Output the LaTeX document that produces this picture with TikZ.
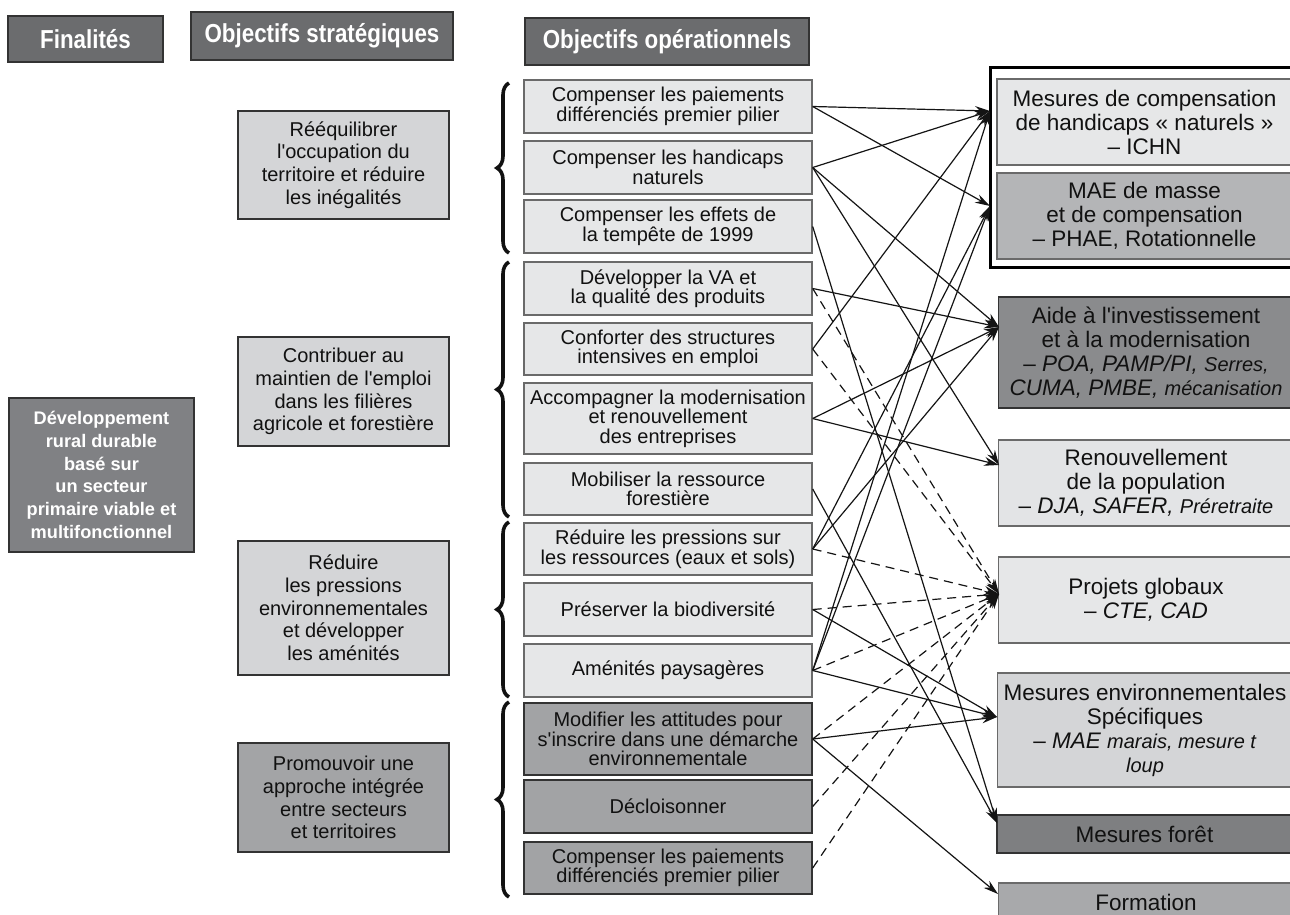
\documentclass[tikz,border=0pt]{standalone}
\usepackage{fontspec}
\setmainfont{Liberation Sans}[Ligatures=TeXOff]
\newfontfamily\headfont{Liberation Sans}[FakeStretch=0.86,Ligatures=TeXOff]
\usetikzlibrary{arrows.meta,decorations.pathreplacing}

\definecolor{headfill}{HTML}{6B6C6E}
\definecolor{devfill}{HTML}{808184}
\definecolor{stratlight}{HTML}{D4D5D7}
\definecolor{stratdark}{HTML}{A3A4A6}
\definecolor{oplight}{HTML}{E6E7E8}
\definecolor{opdark}{HTML}{A2A3A5}
\definecolor{mesA}{HTML}{E6E7E8}
\definecolor{mesB}{HTML}{B4B5B7}
\definecolor{mesC}{HTML}{8A8B8D}
\definecolor{mesD}{HTML}{E3E4E6}
\definecolor{mesE}{HTML}{E6E7E8}
\definecolor{mesF}{HTML}{D4D5D7}
\definecolor{mesG}{HTML}{7E7F81}
\definecolor{mesH}{HTML}{A8A9AB}
\definecolor{edgegray}{HTML}{6A6A6A}
\definecolor{edgedark}{HTML}{333333}
\definecolor{textblack}{HTML}{111111}
\definecolor{linecol}{HTML}{141414}

\begin{document}
\begin{tikzpicture}[x=1pt,y=-1pt,
  box/.style={draw=edgegray, line width=1.4pt, align=center, inner sep=0pt, text=textblack},
  headbox/.style={box, draw=edgedark, fill=headfill, text=white,
    font=\headfont\bfseries\fontsize{26}{28}\selectfont},
  devbox/.style={box, draw=edgedark, fill=devfill, text=white,
    font=\bfseries\fontsize{18.2}{22.7}\selectfont},
  stratbox/.style={box, draw=edgedark, minimum width=211pt, font=\fontsize{20}{22.7}\selectfont},
  opbox/.style={box, minimum width=288pt, fill=oplight, font=\fontsize{20}{19.5}\selectfont},
  opdarkbox/.style={opbox, draw=edgedark, fill=opdark},
  mesbox/.style={box, minimum width=295pt, font=\fontsize{22.5}{24}\selectfont},
  link/.style={-{Stealth[length=15pt,width=9pt]}, line width=1.2pt, draw=linecol},
  dlink/.style={link, dash pattern=on 9pt off 6pt},
  bracemark/.style={decorate, decoration={brace, amplitude=12pt}, line width=3.6pt, draw=textblack}
]
\newcommand{\sm}[1]{{\fontsize{20}{24}\selectfont #1}}
\useasboundingbox (0,0) rectangle (1290,915);
\clip (0,0) rectangle (1290,915);
\fill[white] (0,0) rectangle (1290,915);

% column headers
\node[headbox, minimum width=155pt, minimum height=46pt] (hfin) at (85.5,39) {Finalités};
\node[headbox, minimum width=262pt, minimum height=48pt] (hstrat) at (322,36) {Objectifs stratégiques};
\node[headbox, minimum width=284pt, minimum height=47pt] (hop) at (667,41.5) {Objectifs opérationnels};

% finalité
\node[devbox, minimum width=185pt, minimum height=154pt] (dev) at (101.5,475)
  {Développement\\rural durable\\basé sur\\un secteur\\primaire viable et\\multifonctionnel};

% objectifs stratégiques
\node[stratbox, fill=stratlight, minimum height=108pt] (r1) at (343.5,165)
  {Rééquilibrer\\l'occupation du\\territoire et réduire\\les inégalités};
\node[stratbox, fill=stratlight, minimum height=109pt] (r2) at (343.5,391.5)
  {Contribuer au\\maintien de l'emploi\\dans les filières\\agricole et forestière};
\node[stratbox, fill=stratlight, minimum height=134pt] (r3) at (343.5,608)
  {Réduire\\les pressions\\environnementales\\et développer\\les aménités};
\node[stratbox, fill=stratdark, minimum height=109pt] (r4) at (343.5,797.5)
  {Promouvoir une\\approche intégrée\\entre secteurs\\et territoires};

% braces grouping the operational objectives
\draw[bracemark] (509,253) -- (509,83);
\draw[bracemark] (509,517) -- (509,262);
\draw[bracemark] (509,697) -- (509,522);
\draw[bracemark] (509,897) -- (509,702);

% objectifs opérationnels
\node[opbox, minimum height=53pt] (s1) at (668,106.5) {Compenser les paiements\\différenciés premier pilier};
\node[opbox, minimum height=53pt] (s2) at (668,167.5) {Compenser les handicaps\\naturels};
\node[opbox, minimum height=53pt] (s3) at (668,226.5) {Compenser les effets de\\la tempête de 1999};
\node[opbox, minimum height=53pt] (s4) at (668,288.5) {Développer la VA et\\la qualité des produits};
\node[opbox, minimum height=52pt] (s5) at (668,349) {Conforter des structures\\intensives en emploi};
\node[opbox, minimum height=71pt] (s6) at (668,418.5) {Accompagner la modernisation\\et renouvellement\\des entreprises};
\node[opbox, minimum height=52pt] (s7) at (668,489) {Mobiliser la ressource\\forestière};
\node[opbox, minimum height=52pt] (s8) at (668,549) {Réduire les pressions sur\\les ressources (eaux et sols)};
\node[opbox, minimum height=53pt] (s9) at (668,609.5) {Préserver la biodiversité};
\node[opbox, minimum height=53pt] (s10) at (668,670.5) {Aménités paysagères};
\node[opdarkbox, minimum height=72pt] (s11) at (668,739) {Modifier les attitudes pour\\s'inscrire dans une démarche\\environnementale};
\node[opdarkbox, minimum height=53pt] (s12) at (668,806.5) {Décloisonner};
\node[opdarkbox, minimum height=52pt] (s13) at (668,868) {Compenser les paiements\\différenciés premier pilier};

% mesures
\node[mesbox, fill=mesA, minimum height=86pt] (m1) at (1144.5,122)
  {Mesures de compensation\\de handicaps « naturels »\\– ICHN};
\node[mesbox, fill=mesB, minimum height=86pt] (m2) at (1144.5,216)
  {MAE de masse\\et de compensation\\– PHAE, Rotationnelle};
\draw[line width=3pt, draw=black] (990,68) rectangle (1300,267);
\node[mesbox, fill=mesC, draw=edgedark, minimum height=111pt] (m3) at (1146,352.5)
  {Aide à l'investissement\\et à la modernisation\\– \textit{POA, PAMP/PI, \sm{Serres,}}\\\textit{CUMA, PMBE, \sm{mécanisation}}};
\node[mesbox, fill=mesD, minimum height=86pt] (m4) at (1146,483)
  {Renouvellement\\de la population\\– \textit{DJA, SAFER, \sm{Préretraite}}};
\node[mesbox, fill=mesE, minimum height=86pt] (m5) at (1146,600)
  {Projets globaux\\– \textit{CTE, CAD}};
\node[mesbox, fill=mesF, minimum height=114pt] (m6) at (1145,730)
  {Mesures environnementales\\Spécifiques\\– \textit{MAE \sm{marais, mesure t}}\\\textit{\sm{loup}}};
\node[mesbox, fill=mesG, draw=edgedark, minimum height=38pt] (m7) at (1144.5,834) {Mesures forêt};
\node[mesbox, fill=mesH, minimum height=44pt] (m8) at (1146,905) {\raisebox{6pt}{Formation}};

% arrow landing points on the measures
\coordinate (in1) at (990,111);
\coordinate (in2) at (990,206);
\coordinate (in3) at (999,327);
\coordinate (in4) at (999,465);
\coordinate (in5) at (999,594);
\coordinate (in6) at (997,717);
\coordinate (in7) at (997,823);
\coordinate (in8) at (998,894);

% solid links
\draw[link] (s1.east) -- (in1);
\draw[link] (s1.east) -- (in2);
\draw[link] (s2.east) -- (in1);
\draw[link] (s2.east) -- (in3);
\draw[link] (s2.east) -- (in4);
\draw[link] (s3.east) -- (in7);
\draw[link] (s4.east) -- (in3);
\draw[link] (s5.east) -- (in1);
\draw[link] (s6.east) -- (in3);
\draw[link] (s6.east) -- (in4);
\draw[link] (s7.east) -- (in7);
\draw[link] (s8.east) -- (in2);
\draw[link] (s8.east) -- (in3);
\draw[link] (s9.east) -- (in6);
\draw[link] (s10.east) -- (in1);
\draw[link] (s10.east) -- (in2);
\draw[link] (s10.east) -- (in6);
\draw[link] (s11.east) -- (in6);
\draw[link] (s11.east) -- (in8);

% dashed links to the global projects
\foreach \src in {s4,s5,s8,s9,s10,s11,s12,s13}
  \draw[dlink] (\src.east) -- (in5);
\end{tikzpicture}
\end{document}
